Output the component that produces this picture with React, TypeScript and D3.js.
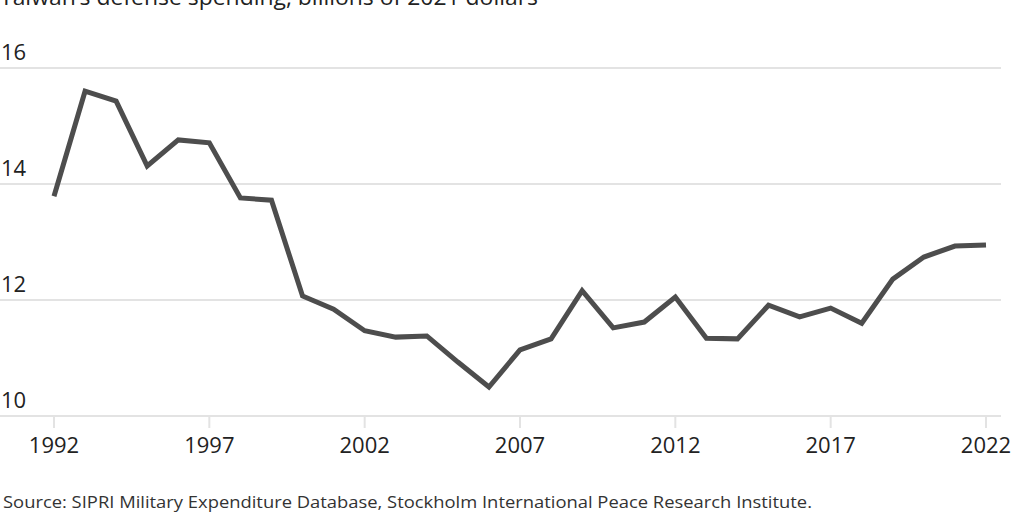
import React from "react";
import * as d3 from "d3";

const years: number[] = [1992,1993,1994,1995,1996,1997,1998,1999,2000,2001,2002,2003,2004,2005,2006,2007,2008,2009,2010,2011,2012,2013,2014,2015,2016,2017,2018,2019,2020,2021,2022];
const spending: number[] = [13.79,15.60,15.43,14.31,14.76,14.71,13.76,13.72,12.07,11.84,11.47,11.36,11.38,10.93,10.50,11.14,11.33,12.16,11.52,11.62,12.05,11.34,11.33,11.91,11.71,11.86,11.60,12.36,12.74,12.93,12.95];
const yTicks: number[] = [10, 12, 14, 16];
const xTicks: number[] = [1992, 1997, 2002, 2007, 2012, 2017, 2022];
const title = "Taiwan\u2019s defense spending, billions of 2021 dollars";
const source = "Source: SIPRI Military Expenditure Database, Stockholm International Peace Research Institute.";

const W = 1024, H = 512;
const FONT = "'Open Sans', Roboto, sans-serif";

export default function App() {
  const x = d3.scaleLinear().domain([1992, 2022]).range([54, 986]);
  const y = d3.scaleLinear().domain([10, 16]).range([416, 68]);
  const line = d3.line<number>().x((_, i) => x(years[i])).y((d) => y(d));
  const path = line(spending) || "";
  return (
    <svg width={W} height={H} style={{ position: "fixed", left: 0, top: 0, background: "#fff" }}>
      <text x={0} y={5} fontFamily={FONT} fontSize={21} fill="#222" textLength={538} lengthAdjust="spacingAndGlyphs">{title}</text>
      {yTicks.map((t) => (
        <g key={t}>
          <line x1={0} x2={1001} y1={y(t)} y2={y(t)} stroke="#e3e3e3" strokeWidth={2} />
          <text x={1} y={y(t) - 8} fontFamily={FONT} fontSize={22} fill="#222">{t}</text>
        </g>
      ))}
      {xTicks.map((t) => (
        <g key={t}>
          <line x1={x(t)} x2={x(t)} y1={416} y2={428} stroke="#e3e3e3" strokeWidth={2} />
          <text x={x(t)} y={453} textAnchor="middle" fontFamily={FONT} fontSize={22} fill="#222">{t}</text>
        </g>
      ))}
      <path d={path} fill="none" stroke="#4d4d4d" strokeWidth={5} strokeLinejoin="miter" strokeLinecap="butt" />
      <text x={3} y={508} fontFamily={FONT} fontSize={16.5} fill="#333" textLength={809} lengthAdjust="spacingAndGlyphs">{source}</text>
    </svg>
  );
}
